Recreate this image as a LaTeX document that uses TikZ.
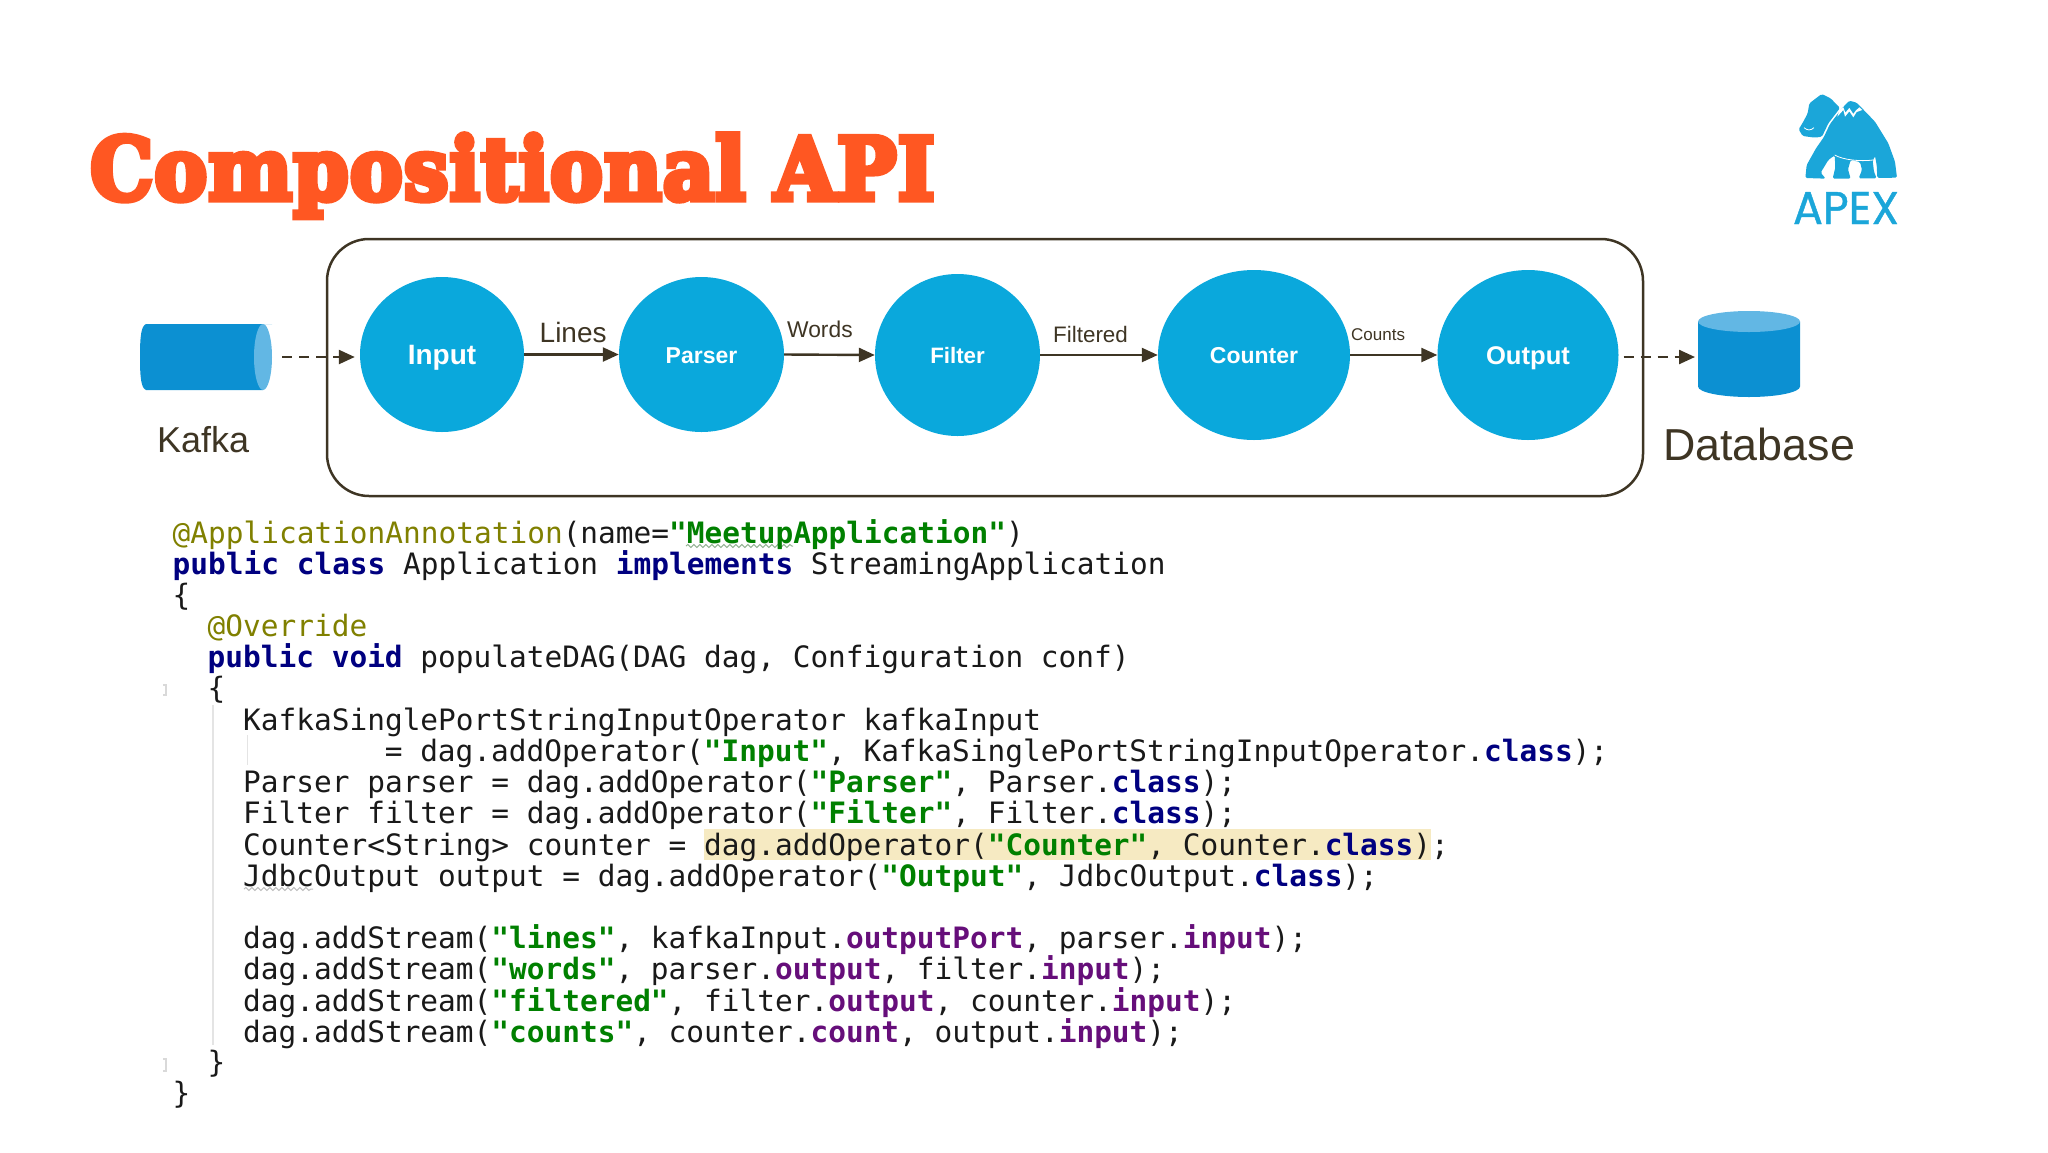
\documentclass[tikz,border=0pt]{standalone}
\usepackage{fontspec}
\usetikzlibrary{shapes.geometric,arrows.meta,decorations.pathmorphing}
\setmainfont{Liberation Sans}
\newfontfamily\codefont{DejaVu Sans Mono}
\newfontfamily\titlefont[LetterSpace=1.5,BoldFeatures={FakeBold=7,LetterSpace=1.5}]{DejaVu Serif}
\newfontfamily\logofont[FakeBold=1]{Poppins}
\definecolor{ink}{HTML}{3E3524}
\definecolor{opblue}{HTML}{0AA8DC}
\definecolor{logoblue}{HTML}{1BA6D9}
\definecolor{cylbody}{HTML}{0C90D2}
\definecolor{cylend}{HTML}{62B7E4}
\definecolor{titleorange}{HTML}{FF5722}
\definecolor{annot}{HTML}{808000}
\definecolor{kwd}{HTML}{000080}
\definecolor{strg}{HTML}{008000}
\definecolor{fld}{HTML}{660E7A}
\definecolor{hilite}{HTML}{F6EAC2}
\definecolor{gutter}{HTML}{E4E4E4}
\newcommand{\An}[1]{\textcolor{annot}{#1}}
\newcommand{\Kw}[1]{\textcolor{kwd}{\bfseries #1}}
\newcommand{\St}[1]{\textcolor{strg}{\bfseries #1}}
\newcommand{\Fd}[1]{\textcolor{fld}{\bfseries #1}}
\tikzset{
  opnode/.style={shape=ellipse,fill=opblue,inner sep=0pt,text=white,font=\bfseries,align=center},
  flow/.style={draw=ink,line width=2.4pt,-{Triangle[length=16pt,width=14pt]}},
  dashflow/.style={flow,dash pattern=on 10pt off 7pt},
  lbl/.style={anchor=base west,inner sep=0pt,text=ink},
  store/.style={shape=rectangle,inner sep=0pt,outer sep=0pt},
  code/.style={anchor=base west,inner sep=0pt,text=black!90,font=\codefont\fontsize{29.45}{31}\selectfont},
  guide/.style={draw=gutter,line width=1.5pt},
  squig/.style={draw=#1,line width=1pt,decorate,decoration={snake,amplitude=1.5pt,segment length=6pt}}
}
\begin{document}
\begin{tikzpicture}[x=1pt,y=-1pt]
\useasboundingbox (0,0) rectangle (2048,1152);
% title
\node[anchor=base west,inner sep=0pt,text=titleorange] (title) at (90,199.5)
  {\scalebox{0.921}[1]{\titlefont\bfseries\fontsize{86}{86}\selectfont Compositional API}};
% logo
\begin{scope}[shift={(1760,80)},x=0.3333pt,y=-0.3333pt]
  \fill[logoblue,rounded corners=1.5pt] (185,42) -- (212,55) -- (240,84) -- (205,130) -- (186,170) -- (165,173) -- (128,168) -- (116,148) -- (130,125) -- (143,100) -- (148,70) -- cycle;
  \fill[logoblue,rounded corners=1.5pt] (268,62) -- (290,68) -- (345,125) -- (385,190) -- (405,245) -- (411,293) -- (352,294) -- (350,255) -- (345,228) -- (338,242) -- (342,275) -- (350,295) -- (296,295) -- (306,270) -- (300,246) -- (272,240) -- (264,268) -- (272,296) -- (218,296) -- (226,262) -- (224,226) -- (205,240) -- (182,278) -- (197,296) -- (136,294) -- (140,255) -- (168,205) -- (191,172) -- (210,132) -- (246,85) -- cycle;
  \fill[white] (232,110) -- (250,90) -- (255,110) -- (268,94) -- (280,112) -- (290,96) -- (307,90) -- (298,82) -- (287,92) -- (280,102) -- (268,84) -- (256,98) -- (250,82) -- (238,92) -- cycle;
  \draw[white,line width=0.8pt] (132,143) .. controls (142,152) and (152,152) .. (162,143);
  \draw[white,line width=0.8pt] (224,225) .. controls (250,240) and (300,245) .. (340,240);
\end{scope}
\node[anchor=base,inner sep=0pt,text=logoblue] (apex) at (1846,224)
  {\resizebox{106pt}{32pt}{\logofont APEX}};
% group box
\node[draw=ink,line width=2.5pt,rounded corners=42pt,minimum width=1316pt,minimum height=257pt,inner sep=0pt] (dag) at (985,367.5) {};
% stores
\node[store,minimum width=132pt,minimum height=66pt] (kafka) at (206,357) {};
\fill[cylbody] (kafka.north east) -- ([xshift=6pt]kafka.north west) .. controls ([xshift=1pt,yshift=-2pt]kafka.north west) and ([yshift=20pt]kafka.west) .. (kafka.west) .. controls ([yshift=-20pt]kafka.west) and ([xshift=1pt,yshift=2pt]kafka.south west) .. ([xshift=6pt]kafka.south west) -- ([xshift=-9pt]kafka.south east) -- ([xshift=-9pt]kafka.north east) -- cycle;
\fill[cylend] ([xshift=-9pt]kafka.east) ellipse [x radius=9pt,y radius=33pt];
\node[store,minimum width=102pt,minimum height=86pt] (db) at (1749,354) {};
\fill[cylbody] ([yshift=-10.5pt]db.north west) -- ([yshift=10.5pt]db.south west) arc [start angle=180,end angle=360,x radius=51pt,y radius=10.5pt] -- ([yshift=-10.5pt]db.north east) -- cycle;
\fill[cylend] ([yshift=-10.5pt]db.north) ellipse [x radius=51pt,y radius=10.5pt];
% operators
\node[opnode,minimum width=164pt,minimum height=155pt,text height=19pt,text depth=0pt,font=\bfseries\fontsize{28}{28}\selectfont] (input) at (442,354.5) {Input};
\node[opnode,minimum width=165pt,minimum height=155pt,text height=17pt,text depth=0pt,font=\bfseries\fontsize{23}{23}\selectfont] (parser) at (701.5,354.5) {Parser};
\node[opnode,minimum width=165pt,minimum height=162pt,text height=16pt,text depth=0pt,font=\bfseries\fontsize{22.3}{23}\selectfont] (filter) at (957.5,355) {Filter};
\node[opnode,minimum width=192pt,minimum height=170pt,text height=17pt,text depth=0pt,font=\bfseries\fontsize{23}{23}\selectfont] (counter) at (1254,355) {Counter};
\node[opnode,minimum width=181pt,minimum height=170pt,text height=18pt,text depth=0pt,font=\bfseries\fontsize{25.6}{26}\selectfont] (output) at (1528,355) {Output};
% connectors
\draw[dashflow,shorten <=10pt,shorten >=5pt] (kafka.east) -- (input.west |- kafka.east);
\draw[flow] (input.east) -- (parser.west);
\draw[flow] (parser.east) -- (filter.west);
\draw[flow] (filter.east) -- (counter.west);
\draw[flow] (counter.east) -- (output.west);
\draw[dashflow,shorten <=5pt,shorten >=3pt] ([yshift=-3pt]output.east |- db.center) -- ([yshift=-3pt]db.center -| db.west);
% labels
\node[lbl,font=\fontsize{36}{36}\selectfont] (kafkalbl) at (157,452) {Kafka};
\node[lbl,font=\fontsize{44.8}{45}\selectfont] (dblbl) at (1663,460) {Database};
\node[lbl,font=\fontsize{28}{28}\selectfont] (lines) at (539.5,342) {Lines};
\node[lbl,font=\fontsize{22.8}{23}\selectfont] (words) at (787,337.5) {Words};
\node[lbl,font=\fontsize{22.4}{23}\selectfont] (filtered) at (1053,342) {Filtered};
\node[lbl,font=\fontsize{17}{17}\selectfont] (counts) at (1351,340) {Counts};
% code decoration
\fill[hilite] (704,829) rectangle (1431,860);
\draw[guide] (213,705) -- (213,1045);
\draw[guide] (247.5,735) -- (247.5,765);
\draw[draw=black!15,line width=1.2pt] (163,685) -- (166,685) -- (166,695) -- (163,695);
\draw[draw=black!15,line width=1.2pt] (163,1059) -- (166,1059) -- (166,1071) -- (163,1071);
\draw[squig=strg!40!gray!60] (686,546) -- (793,546);
\draw[squig=gray!50] (244,889) -- (313,889);
% code
\node[code] (c0) at (172.5,543) {\An{@ApplicationAnnotation}(name=\St{"MeetupApplication"})};
\node[code] (c1) at (172.5,574.2) {\Kw{public class} Application \Kw{implements} StreamingApplication};
\node[code] (c2) at (172.5,605.4) {\{};
\node[code] (c3) at (207.5,636.6) {\An{@Override}};
\node[code] (c4) at (207.5,667.8) {\Kw{public void} populateDAG(DAG dag, Configuration conf)};
\node[code] (c5) at (207.5,698) {\{};
\node[code] (c6) at (243,730.2) {KafkaSinglePortStringInputOperator kafkaInput};
\node[code] (c7) at (384.6,761.4) {= dag.addOperator(\St{"Input"}, KafkaSinglePortStringInputOperator.\Kw{class});};
\node[code] (c8) at (243,792.6) {Parser parser = dag.addOperator(\St{"Parser"}, Parser.\Kw{class});};
\node[code] (c9) at (243,823.8) {Filter filter = dag.addOperator(\St{"Filter"}, Filter.\Kw{class});};
\node[code] (c10) at (243,855) {Counter<String> counter = dag.addOperator(\St{"Counter"}, Counter.\Kw{class});};
\node[code] (c11) at (243,886.2) {JdbcOutput output = dag.addOperator(\St{"Output"}, JdbcOutput.\Kw{class});};
\node[code] (c13) at (243,948.6) {dag.addStream(\St{"lines"}, kafkaInput.\Fd{outputPort}, parser.\Fd{input});};
\node[code] (c14) at (243,979.8) {dag.addStream(\St{"words"}, parser.\Fd{output}, filter.\Fd{input});};
\node[code] (c15) at (243,1011) {dag.addStream(\St{"filtered"}, filter.\Fd{output}, counter.\Fd{input});};
\node[code] (c16) at (243,1042.2) {dag.addStream(\St{"counts"}, counter.\Fd{count}, output.\Fd{input});};
\node[code] (c17) at (207.5,1072) {\}};
\node[code] (c18) at (172.5,1103) {\}};
\end{tikzpicture}
\end{document}
